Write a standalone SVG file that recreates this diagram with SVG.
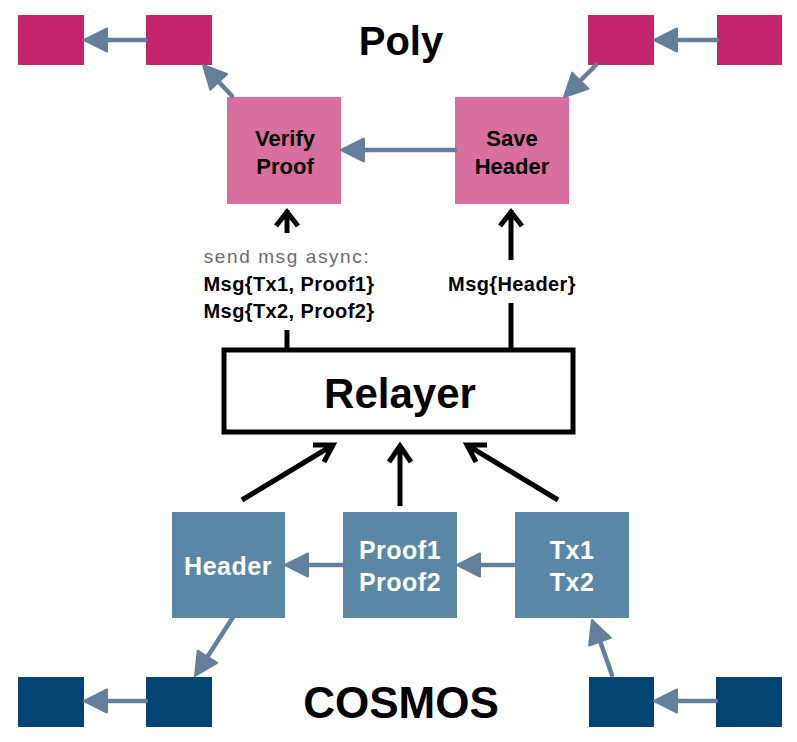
<svg xmlns="http://www.w3.org/2000/svg" width="797" height="742" viewBox="0 0 797 742">
<style>
.dk{fill:#C3256C}
.lp{fill:#D86F9E}
.bl{fill:#5A87A6}
.db{fill:#034472}
.title{font-family:"Liberation Sans",Arial,sans-serif;font-weight:bold;fill:#000;text-anchor:middle}
.lbl{font-family:"Liberation Sans",Arial,sans-serif;font-weight:bold;font-size:22px;fill:#000;text-anchor:middle}
.wl{font-family:"Liberation Sans",Arial,sans-serif;font-weight:bold;font-size:25px;letter-spacing:0.5px;fill:#fff;text-anchor:middle}
.msg{font-family:"Liberation Sans",Arial,sans-serif;font-weight:bold;font-size:20px;letter-spacing:0.4px;fill:#000;text-anchor:middle}
.gl{stroke:#647F9B;stroke-width:4.5;stroke-linecap:round;fill:none}
.gh{fill:#647F9B;stroke:#647F9B;stroke-width:2;stroke-linejoin:round}
.bk{stroke:#000;stroke-width:5;fill:none}
</style>
<rect width="797" height="742" fill="#fff"/>
<text class="title" x="401" y="55" font-size="40">Poly</text>
<text class="title" x="401" y="718" font-size="44">COSMOS</text>

<g id="poly-block-1"><rect class="dk" x="18" y="15" width="66" height="50"/></g>
<g id="poly-block-2"><rect class="dk" x="146" y="15" width="66" height="50"/></g>
<g id="poly-block-3"><rect class="dk" x="588" y="15" width="66" height="50"/></g>
<g id="poly-block-4"><rect class="dk" x="717" y="15" width="65" height="50"/></g>

<g id="verify-proof"><rect class="lp" x="227" y="97" width="114" height="107"/>
<text class="lbl" x="285" y="146">Verify</text><text class="lbl" x="285" y="174">Proof</text></g>
<g id="save-header"><rect class="lp" x="455" y="97" width="114" height="107"/>
<text class="lbl" x="512" y="146">Save</text><text class="lbl" x="512" y="174">Header</text></g>

<g id="relayer"><rect x="224" y="350" width="349" height="82" fill="#fff" stroke="#000" stroke-width="5"/>
<text class="title" x="400" y="408" font-size="42">Relayer</text></g>

<g id="header"><rect class="bl" x="172" y="512" width="113" height="106"/>
<text class="wl" x="228" y="575">Header</text></g>
<g id="proofs"><rect class="bl" x="343" y="512" width="114" height="106"/>
<text class="wl" x="400" y="559">Proof1</text><text class="wl" x="400" y="591">Proof2</text></g>
<g id="txs"><rect class="bl" x="515" y="512" width="114" height="106"/>
<text class="wl" x="572" y="559">Tx1</text><text class="wl" x="572" y="591">Tx2</text></g>

<g id="cosmos-block-1"><rect class="db" x="18" y="677" width="66" height="50"/></g>
<g id="cosmos-block-2"><rect class="db" x="146" y="677" width="66" height="50"/></g>
<g id="cosmos-block-3"><rect class="db" x="589" y="677" width="65" height="50"/></g>
<g id="cosmos-block-4"><rect class="db" x="716" y="677" width="66" height="50"/></g>

<g id="labels">
<text x="287" y="263" font-family="'Liberation Sans',Arial,sans-serif" font-size="19" letter-spacing="1.6" fill="#6B6B6B" text-anchor="middle">send msg async:</text>
<text class="msg" x="289" y="291">Msg{Tx1, Proof1}</text>
<text class="msg" x="289" y="318">Msg{Tx2, Proof2}</text>
<text class="msg" x="512" y="291">Msg{Header}</text>
</g>

<g id="connectors">
<line class="gl" x1="146" y1="40" x2="105" y2="40"/><polygon class="gh" points="84,40 107,28.5 107,51.5"/>
<line class="gl" x1="232" y1="96" x2="219" y2="82"/><polygon class="gh" points="203,65 227.1,73.9 210.3,89.7"/>
<line class="gl" x1="455" y1="150" x2="362" y2="150"/><polygon class="gh" points="341,150 364,138.5 364,161.5"/>
<line class="gl" x1="717" y1="40" x2="675" y2="40"/><polygon class="gh" points="654,40 677,28.5 677,51.5"/>
<line class="gl" x1="596" y1="65" x2="581" y2="80"/><polygon class="gh" points="564,97 588.4,88.8 572.2,72.6"/>
<line class="gl" x1="343" y1="565" x2="306" y2="565"/><polygon class="gh" points="285,565 308,553.5 308,576.5"/>
<line class="gl" x1="515" y1="565" x2="478" y2="565"/><polygon class="gh" points="457,565 480,553.5 480,576.5"/>
<line class="gl" x1="233" y1="617" x2="208" y2="656"/><polygon class="gh" points="195,676 217.1,662.9 197.7,650.5"/>
<line class="gl" x1="612" y1="675" x2="600" y2="641"/><polygon class="gh" points="592,620 610.7,637.7 589.1,645.5"/>
<line class="gl" x1="146" y1="701" x2="105" y2="701"/><polygon class="gh" points="84,701 107,689.5 107,712.5"/>
<line class="gl" x1="716" y1="701" x2="675" y2="701"/><polygon class="gh" points="654,701 677,689.5 677,712.5"/>
<path class="bk" d="M287,210 V233 M287,330 V348 M276,226 L287,212 L298,226"/>
<path class="bk" d="M511,210 V260 M511,303 V348 M500,226 L511,212 L522,226"/>
<path class="bk" d="M242,500 L333,445 M313,445 L333,445 L324,462"/>
<path class="bk" d="M400,506 V446 M389,462 L400,446 L411,462"/>
<path class="bk" d="M558,500 L467,445 M487,445 L467,445 L476,462"/>
</g>
</svg>
